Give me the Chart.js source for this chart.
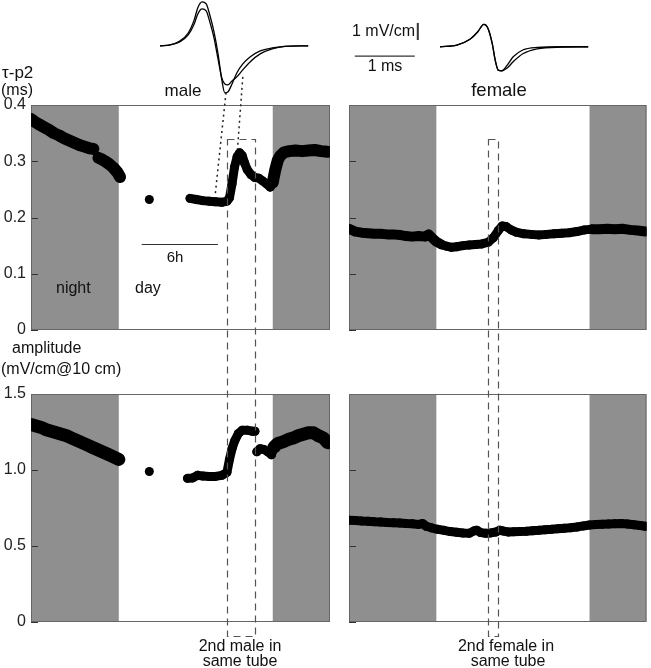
<!DOCTYPE html>
<html>
<head>
<meta charset="utf-8">
<script src="https://cdn.jsdelivr.net/npm/chart.js@4.4.1/dist/chart.umd.min.js"></script>
<style>
  body { margin: 0; background: #fff; }
  #fig { position: relative; width: 651px; height: 668px; overflow: hidden;
         font-family: "Liberation Sans", Arial, Helvetica, sans-serif; color: #111; }
  #fig canvas { position: absolute; }
  .t { position: absolute; font-size: 16px; line-height: 16px; white-space: nowrap; }
  .c { transform: translateX(-50%); }
</style>
</head>
<body>
<div id="fig">
  <canvas id="waveMale" width="150" height="100" style="left:160px;top:0"></canvas>
  <canvas id="waveFemale" width="150" height="100" style="left:440px;top:0"></canvas>
  <canvas id="maleTauChart" width="340" height="257" style="left:0;top:89px"></canvas>
  <canvas id="femaleTauChart" width="312" height="257" style="left:339px;top:89px"></canvas>
  <canvas id="maleAmpChart" width="340" height="260" style="left:0;top:378px"></canvas>
  <canvas id="femaleAmpChart" width="312" height="260" style="left:339px;top:378px"></canvas>
  <canvas id="overlay" width="651" height="668" style="left:0;top:0"></canvas>

  <div class="t" style="left:2px;top:64px;font-size:17px;line-height:17px">τ-p2</div>
  <div class="t" style="left:1px;top:82px">(ms)</div>
  <div class="t c" style="left:183px;top:82px;font-size:17px;line-height:17px">male</div>
  <div class="t c" style="left:499px;top:81px;font-size:18.5px;line-height:18.5px">female</div>
  <div class="t" style="left:352px;top:23px">1 mV/cm</div>
  <div class="t c" style="left:385px;top:58px">1 ms</div>
  <div class="t" style="left:56px;top:280px">night</div>
  <div class="t" style="left:135px;top:280px">day</div>
  <div class="t c" style="left:175px;top:249px;font-size:15px;line-height:15px">6h</div>
  <div class="t" style="left:12px;top:340px">amplitude</div>
  <div class="t" style="left:1px;top:361px">(mV/cm@10 cm)</div>
  <div class="t c" style="left:240px;top:638px">2nd male in</div>
  <div class="t c" style="left:240px;top:653px">same tube</div>
  <div class="t c" style="left:506px;top:638px">2nd female in</div>
  <div class="t c" style="left:508px;top:653px">same tube</div>
</div>

<script>
const FONT = '"Liberation Sans", Arial, Helvetica, sans-serif';

// time axis in hours, night shaded
const hoursMax = 23.5;
const nightBands = [[0, 6.9], [19.0, 23.5]];

// male: tau-p2 (ms)
const maleTauHours = [0, 0.3, 0.6, 1.0, 1.4, 1.8, 2.2, 2.6, 3.0, 3.4, 3.8, 4.2, 4.6, 4.9, 5.1, 5.3, 5.6, 5.9, 6.2, 6.5,
  6.8, 7.0, 8.0, 9.3, 10.5, 12.5, 13.0, 13.5, 14.0, 14.5, 15.0, 15.4, 15.6, 15.8, 16.0, 16.2, 16.4, 16.6, 16.8, 17.0,
  17.3, 17.6, 17.9, 18.2, 18.5, 18.8, 19.0, 19.2, 19.4, 19.6, 19.9, 20.3, 20.8, 21.3, 21.8, 22.3, 22.8, 23.3];
const maleTau = [0.375, 0.370, 0.366, 0.361, 0.356, 0.350, 0.346, 0.341, 0.337, 0.333, 0.329, 0.326, 0.323, 0.322, null, 0.306, 0.303, 0.299, 0.294, 0.288,
  0.280, 0.272, null, 0.232, null, 0.234, 0.232, 0.230, 0.229, 0.228, 0.227, 0.229, 0.235, 0.260, 0.290, 0.308, 0.315, 0.310, 0.296, 0.285,
  0.276, 0.271, 0.270, 0.265, 0.260, 0.254, 0.262, 0.285, 0.302, 0.310, 0.316, 0.318, 0.319, 0.318, 0.319, 0.320, 0.318, 0.317];

// male: amplitude (mV/cm @ 10 cm)
const maleAmpHours = [0, 0.4, 0.8, 1.2, 1.6, 2.0, 2.4, 2.8, 3.2, 3.6, 4.0, 4.4, 4.8, 5.2, 5.6, 6.0, 6.4, 6.9, 8.0, 9.3,
  10.5, 12.3, 12.7, 13.1, 13.5, 14.0, 14.5, 15.0, 15.4, 15.6, 15.8, 16.0, 16.3, 16.6, 17.0, 17.4, 17.6, 17.68, 17.75, 18.0,
  18.3, 18.6, 18.9, 19.1, 19.4, 19.8, 20.2, 20.6, 21.0, 21.4, 21.8, 22.2, 22.6, 23.0, 23.3];
const maleAmp = [1.30, 1.29, 1.28, 1.265, 1.255, 1.245, 1.235, 1.225, 1.21, 1.195, 1.18, 1.165, 1.15, 1.135, 1.12, 1.105, 1.09, 1.07, null, 0.99,
  null, 0.945, 0.948, 0.965, 0.960, 0.958, 0.958, 0.965, 0.985, 1.07, 1.14, 1.19, 1.24, 1.262, 1.262, 1.255, 1.255, null, 1.12, 1.14,
  1.135, 1.12, 1.10, 1.15, 1.175, 1.185, 1.20, 1.21, 1.225, 1.235, 1.245, 1.245, 1.225, 1.21, 1.18];

// female: tau-p2 (ms)
const femaleTauHours = [0, 0.5, 1.0, 1.5, 2.0, 2.5, 3.0, 3.5, 4.0, 4.5, 5.0, 5.5, 6.0, 6.3, 6.6, 6.9, 7.3, 7.7, 8.1, 8.5,
  9.0, 9.5, 10.0, 10.5, 11.0, 11.4, 11.8, 12.1, 12.4, 12.8, 13.2, 13.8, 14.4, 15.0, 15.6, 16.2, 16.8, 17.4, 18.0, 18.6,
  19.2, 19.8, 20.4, 21.0, 21.6, 22.2, 22.8, 23.4];
const femaleTau = [0.180, 0.175, 0.173, 0.172, 0.171, 0.171, 0.170, 0.170, 0.169, 0.167, 0.166, 0.167, 0.166, 0.170, 0.163, 0.157, 0.152, 0.149, 0.147, 0.148,
  0.150, 0.151, 0.152, 0.153, 0.156, 0.164, 0.177, 0.185, 0.184, 0.178, 0.174, 0.171, 0.170, 0.169, 0.170, 0.171, 0.172, 0.173, 0.175, 0.178,
  0.179, 0.179, 0.180, 0.179, 0.180, 0.178, 0.177, 0.175];

// female: amplitude (mV/cm @ 10 cm)
const femaleAmpHours = [0, 0.5, 1.0, 1.5, 2.0, 2.5, 3.0, 3.5, 4.0, 4.5, 5.0, 5.5, 5.8, 6.1, 6.5, 7.0, 7.5, 8.0, 8.5, 9.0,
  9.5, 9.9, 10.1, 10.4, 10.8, 11.2, 11.6, 11.9, 12.2, 12.6, 13.0, 13.5, 14.0, 14.5, 15.0, 15.5, 16.0, 16.5, 17.0, 17.5,
  18.0, 18.5, 19.0, 19.5, 20.0, 20.5, 21.0, 21.5, 22.0, 22.5, 23.0, 23.4];
const femaleAmp = [0.670, 0.668, 0.665, 0.663, 0.660, 0.658, 0.655, 0.653, 0.651, 0.648, 0.646, 0.642, 0.648, 0.630, 0.620, 0.610, 0.603, 0.595, 0.590, 0.585,
  0.584, 0.600, 0.604, 0.588, 0.584, 0.586, 0.592, 0.604, 0.598, 0.592, 0.593, 0.595, 0.597, 0.600, 0.603, 0.607, 0.610, 0.614, 0.617, 0.620,
  0.625, 0.632, 0.638, 0.641, 0.643, 0.645, 0.647, 0.648, 0.645, 0.640, 0.635, 0.630];

// EOD waveforms (time in ms, field in mV/cm)
const maleWaveMs = [0, 0.17, 0.33, 0.47, 0.57, 0.63, 0.70, 0.77, 0.83, 0.90, 0.97, 1.03, 1.08, 1.13, 1.20, 1.28, 1.38, 1.50, 1.67, 1.87, 2.08, 2.33, 2.47];
const maleWaveA = [0, 0.06, 0.29, 0.76, 1.53, 2.24, 2.59, 2.47, 1.82, 0.82, -0.53, -2.0, -2.76, -2.71, -2.24, -1.59, -1.06, -0.65, -0.29, -0.12, -0.03, 0, 0];
const maleWaveB = [0, 0.06, 0.24, 0.65, 1.29, 1.88, 2.18, 2.06, 1.41, 0.47, -0.82, -1.88, -2.24, -2.29, -2.06, -1.82, -1.41, -0.94, -0.47, -0.18, -0.03, 0, 0];
const femaleWaveMs = [0, 0.28, 0.50, 0.63, 0.73, 0.80, 0.87, 0.92, 0.97, 1.03, 1.12, 1.22, 1.38, 1.62, 2.05, 2.47];
const femaleWaveA = [0, 0.10, 0.44, 0.88, 1.32, 1.08, 0.20, -0.78, -1.37, -1.41, -1.08, -0.59, -0.19, -0.04, 0, 0];
const femaleWaveB = [0, 0.10, 0.44, 0.88, 1.32, 1.08, 0.20, -0.78, -1.37, -1.41, -1.25, -0.88, -0.41, -0.12, -0.02, 0];

// "2nd fish in same tube" windows (hours)
const maleBoxHours = [15.4, 17.6];
const femaleBoxHours = [11.0, 11.8];

Chart.defaults.font.family = FONT;

/**
 * Night shading, inward tick marks and the grey frame of a panel
 */
const panelPlugin = {
  id: 'panel',
  beforeDatasetsDraw(chart, args, opts) {
    const { ctx, chartArea: a, scales: { x, y } } = chart;
    ctx.save();
    ctx.fillStyle = '#8f8f8f';
    opts.bands.forEach(([h0, h1]) => {
      const x0 = Math.max(a.left, x.getPixelForValue(h0));
      const x1 = Math.min(a.right, x.getPixelForValue(h1));
      ctx.fillRect(x0, a.top, x1 - x0, a.bottom - a.top);
    });
    ctx.strokeStyle = '#333';
    ctx.lineWidth = 1;
    y.ticks.forEach(t => {
      const py = Math.round(y.getPixelForValue(t.value)) + 0.5;
      ctx.beginPath();
      ctx.moveTo(a.left, py);
      ctx.lineTo(a.left + 7, py);
      ctx.stroke();
    });
    ctx.strokeStyle = '#666';
    ctx.strokeRect(a.left + 0.5, a.top + 0.5, a.right - a.left - 1, a.bottom - a.top - 1);
    ctx.restore();
  }
};

// top/bottom padding of 16 is larger than the tick label overhang, so the plot area is exact
function panelChart(id, hours, values, yMax, yStep, showLabels, nightWidth) {
  const pad = showLabels ? { top: 16, right: 10, bottom: 16, left: 0 } : { top: 16, right: 4, bottom: 16, left: 10 };
  return new Chart(document.getElementById(id), {
    type: 'line',
    data: {
      datasets: [{
        data: hours.map((h, i) => ({ x: h, y: values[i] })),
        borderColor: '#000',
        backgroundColor: '#000',
        borderWidth: 9,
        borderCapStyle: 'round',
        borderJoinStyle: 'round',
        pointRadius: 4.5,
        pointBorderWidth: 0,
        spanGaps: false,
        // the night recordings scatter more, so the band is wider there
        segment: {
          borderWidth: c => (c.p0.parsed.x < 7 || c.p0.parsed.x >= 19) ? nightWidth : 9
        }
      }]
    },
    options: {
      responsive: false,
      animation: false,
      events: [],
      layout: { padding: pad },
      plugins: { legend: { display: false }, tooltip: { enabled: false }, panel: { bands: nightBands } },
      scales: {
        x: { type: 'linear', min: 0, max: hoursMax, display: false },
        y: {
          min: 0, max: yMax,
          grid: { display: false, drawTicks: false },
          border: { display: false },
          ticks: {
            display: showLabels, stepSize: yStep, padding: 5, color: '#222',
            font: { size: 16 },
            callback: v => v === 0 ? '0' : v.toFixed(1)
          },
          afterFit: s => { s.width = showLabels ? 31 : 0; }
        }
      }
    },
    plugins: [panelPlugin]
  });
}

function waveChart(id, ms, curves, yMin, yMax) {
  return new Chart(document.getElementById(id), {
    type: 'line',
    data: {
      datasets: curves.map(c => ({
        data: ms.map((t, i) => ({ x: t, y: c[i] })),
        borderColor: '#000',
        borderWidth: 1.3,
        pointRadius: 0,
        cubicInterpolationMode: 'monotone'
      }))
    },
    options: {
      responsive: false,
      animation: false,
      events: [],
      layout: { padding: 0 },
      plugins: { legend: { display: false }, tooltip: { enabled: false } },
      scales: {
        x: { type: 'linear', min: 0, max: 2.5, display: false },
        y: { min: yMin, max: yMax, display: false }
      }
    }
  });
}

const waveM = waveChart('waveMale', maleWaveMs, [maleWaveA, maleWaveB], -3.18, 2.7);
const waveF = waveChart('waveFemale', femaleWaveMs, [femaleWaveA, femaleWaveB], -3.13, 2.75);
const maleTauC = panelChart('maleTauChart', maleTauHours, maleTau, 0.4, 0.1, true, 12);
const femaleTauC = panelChart('femaleTauChart', femaleTauHours, femaleTau, 0.4, 0.1, false, 10);
const maleAmpC = panelChart('maleAmpChart', maleAmpHours, maleAmp, 1.5, 0.5, true, 13);
const femaleAmpC = panelChart('femaleAmpChart', femaleAmpHours, femaleAmp, 1.5, 0.5, false, 9);

/**
 * Overlay: marks that cross panels, placed through each chart's scales
 */
const ov = document.getElementById('overlay').getContext('2d');

const at = (chart, xv, yv) => [
  chart.canvas.offsetLeft + chart.scales.x.getPixelForValue(xv),
  chart.canvas.offsetTop + chart.scales.y.getPixelForValue(yv)
];

const line = (p, q) => {
  ov.beginPath();
  ov.moveTo(p[0], p[1]);
  ov.lineTo(q[0], q[1]);
  ov.stroke();
};

// dashed windows spanning both rows
ov.save();
ov.setLineDash([7, 5]);
ov.strokeStyle = '#555';
ov.lineWidth = 1.2;
[[maleTauC, maleAmpC, maleBoxHours], [femaleTauC, femaleAmpC, femaleBoxHours]].forEach(([top, bottom, hrs]) => {
  const [x0, y0] = at(top, hrs[0], 0.34);
  const [x1] = at(top, hrs[1], 0.34);
  const [, y1] = at(bottom, hrs[0], -0.092);
  ov.strokeRect(Math.round(x0) + 0.5, Math.round(y0) + 0.5, Math.round(x1 - x0), Math.round(y1 - y0));
});
ov.restore();

// dotted links from the waveform to the tau values
ov.save();
ov.setLineDash([2, 3.5]);
ov.strokeStyle = '#222';
ov.lineWidth = 1.5;
line(at(waveM, 1.1, -2.75), at(maleTauC, 14.47, 0.239));
line(at(waveM, 1.38, -1.82), at(maleTauC, 16.23, 0.322));
ov.restore();

// scale bars
ov.save();
ov.strokeStyle = '#333';
ov.lineWidth = 1;
line(at(maleTauC, 8.7, 0.152), at(maleTauC, 14.7, 0.152));
ov.lineWidth = 1.3;
line(at(waveF, -1.42, -0.55), at(waveF, -0.42, -0.55));
ov.lineWidth = 2;
line(at(waveF, -0.37, 1.4), at(waveF, -0.37, 0.4));
ov.restore();
</script>
</body>
</html>
